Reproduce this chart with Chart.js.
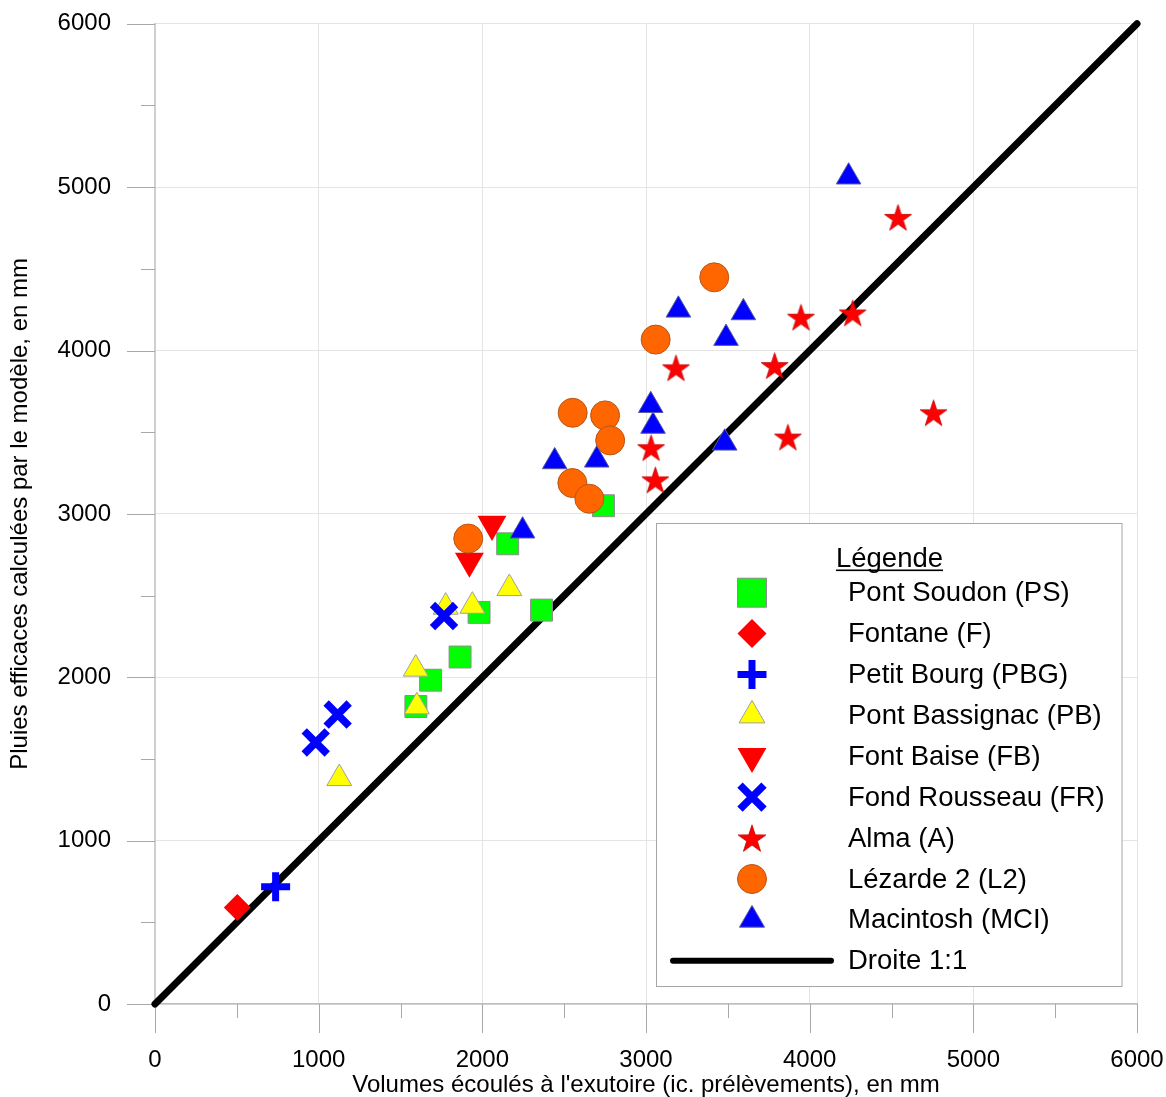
<!DOCTYPE html>
<html>
<head>
<meta charset="utf-8">
<script src="https://cdn.jsdelivr.net/npm/chart.js@4.4.1/dist/chart.umd.min.js"></script>
<style>
  html, body { margin: 0; padding: 0; background: #fff; }
  .chartBox { width: 1166px; height: 1097px; }
</style>
</head>
<body>
<div class="chartBox"><canvas id="myChart"></canvas></div>
<script>
// series names (legend order)
const seriesNames = ['Pont Soudon (PS)', 'Fontane (F)', 'Petit Bourg (PBG)', 'Pont Bassignac (PB)',
  'Font Baise (FB)', 'Fond Rousseau (FR)', 'Alma (A)', 'Lézarde 2 (L2)', 'Macintosh (MCI)'];
const lineName = 'Droite 1:1';

// x = volumes écoulés, y = pluies efficaces (mm)
const psX = [2740, 2155, 2362, 1980, 1864, 1684, 1594];
const psY = [3050, 2817, 2411, 2397, 2124, 1982, 1821];
const fX = [503];
const fY = [591];
const pbgX = [737];
const pbgY = [717];
const pbX = [1600, 1593, 1776, 1939, 2165, 1126];
const pbY = [1820, 2051, 2430, 2436, 2544, 1381];
const fbX = [1921, 2059];
const fbY = [2711, 2937];
const frX = [1766, 1116, 982];
const frY = [2375, 1772, 1601];
const aX = [4540, 4263, 3947, 3786, 3183, 4757, 3867, 3031, 3057];
const aY = [4815, 4230, 4204, 3908, 3894, 3619, 3470, 3405, 3208];
const l2X = [3417, 3059, 2552, 2750, 2781, 2550, 2654, 1914];
const l2Y = [4448, 4067, 3619, 3603, 3450, 3189, 3093, 2849];
const mciX = [4238, 3198, 3595, 3489, 3029, 3043, 3481, 2699, 2442, 2246];
const mciY = [5063, 4248, 4232, 4075, 3664, 3537, 3434, 3330, 3320, 2896];
const lineX = [0, 6000];
const lineY = [0, 6000];

const axisMin = 0, axisMax = 6000, majorStep = 1000, minorStep = 500;

function pts(xs, ys) { return xs.map((x, i) => ({ x: x, y: ys[i] })); }

function makeStar(R, color) {
  const s = Math.ceil(R * 2 + 4);
  const c = document.createElement('canvas');
  c.width = s; c.height = s;
  const g = c.getContext('2d');
  g.translate(s / 2, s / 2 + 0.095 * R);
  g.beginPath();
  for (let k = 0; k < 10; k++) {
    const r = k % 2 === 0 ? R : R * 0.382;
    const a = -Math.PI / 2 + k * Math.PI / 5;
    g.lineTo(Math.cos(a) * r, Math.sin(a) * r);
  }
  g.closePath();
  g.fillStyle = color;
  g.fill();
  g.lineWidth = 0.8;
  g.strokeStyle = '#c00000';
  g.stroke();
  return c;
}

const starPlot = makeStar(14.2, '#ff0000');
const starLegend = makeStar(14.6, '#ff0000');

const datasets = [
  { label: seriesNames[0], data: pts(psX, psY), pointStyle: 'rect', pointRadius: 15.5, legendRadius: 20.5,
    backgroundColor: '#00ff00', borderColor: '#8c8c8c', borderWidth: 1 },
  { label: seriesNames[1], data: pts(fX, fY), pointStyle: 'rectRot', pointRadius: 13.5, legendRadius: 14.5,
    backgroundColor: '#ff0000', borderColor: '#ff0000', borderWidth: 0 },
  { label: seriesNames[2], data: pts(pbgX, pbgY), pointStyle: 'cross', pointRadius: 14.5, legendRadius: 14.5,
    backgroundColor: '#0000ff', borderColor: '#0000ff', borderWidth: 7 },
  { label: seriesNames[3], data: pts(pbX, pbY), pointStyle: 'triangle', pointRadius: 14.4, legendRadius: 15,
    backgroundColor: '#ffff00', borderColor: '#a0a0a0', borderWidth: 1 },
  { label: seriesNames[4], data: pts(fbX, fbY), pointStyle: 'triangle', rotation: 180, pointRadius: 16.7, legendRadius: 16.7,
    backgroundColor: '#ff0000', borderColor: '#ff0000', borderWidth: 0 },
  { label: seriesNames[5], data: pts(frX, frY), pointStyle: 'crossRot', pointRadius: 16.3, legendRadius: 17,
    backgroundColor: '#0000ff', borderColor: '#0000ff', borderWidth: 7.5 },
  { label: seriesNames[6], data: pts(aX, aY), pointStyle: starPlot, legendImage: starLegend, pointRadius: 14,
    backgroundColor: '#ff0000', borderColor: '#ff0000', borderWidth: 0 },
  { label: seriesNames[7], data: pts(l2X, l2Y), pointStyle: 'circle', pointRadius: 14.5, legendRadius: 14.5,
    backgroundColor: '#ff6600', borderColor: '#b4561a', borderWidth: 1 },
  { label: seriesNames[8], data: pts(mciX, mciY), pointStyle: 'triangle', pointRadius: 14.2, legendRadius: 14.5,
    backgroundColor: '#0000ff', borderColor: '#5a5aa0', borderWidth: 1 },
];
datasets.forEach((d, i) => { d.order = 20 - i; d.clip = false; d.pointHoverRadius = d.pointRadius; });
datasets.push({
  label: lineName, data: pts(lineX, lineY), showLine: true, pointRadius: 0, pointHoverRadius: 0,
  borderColor: '#000000', borderWidth: 7, borderCapStyle: 'round', order: 100, clip: false
});

// minor + major tick marks drawn outside the plot area
const tickMarks = {
  id: 'tickMarks',
  beforeDatasetsDraw(chart) {
    const { ctx, chartArea: a, scales } = chart;
    ctx.save();
    ctx.strokeStyle = '#a8a8a8';
    ctx.lineWidth = 1;
    for (let v = axisMin; v <= axisMax; v += minorStep) {
      const major = v % majorStep === 0;
      const py = Math.round(scales.y.getPixelForValue(v)) + 0.5;
      ctx.beginPath();
      ctx.moveTo(a.left - (major ? 28 : 14), py);
      ctx.lineTo(a.left, py);
      ctx.stroke();
      const px = Math.round(scales.x.getPixelForValue(v)) + 0.5;
      ctx.beginPath();
      ctx.moveTo(px, a.bottom);
      ctx.lineTo(px, a.bottom + (major ? 29 : 14));
      ctx.stroke();
    }
    ctx.restore();
  }
};

// boxed legend inside the plot
const boxLegend = {
  id: 'boxLegend',
  afterDraw(chart) {
    const ctx = chart.ctx;
    const bx = 656.5, by = 523.5, bw = 465.5, bh = 463;
    const markX = 752, textX = 848, row0 = 592.7, rowStep = 40.9;
    ctx.save();
    ctx.fillStyle = '#ffffff';
    ctx.fillRect(bx, by, bw, bh);
    ctx.strokeStyle = '#a6a6a6';
    ctx.lineWidth = 1;
    ctx.strokeRect(bx, by, bw, bh);

    ctx.fillStyle = '#000000';
    ctx.font = '27.5px "Liberation Sans", Arial, sans-serif';
    ctx.textAlign = 'center';
    ctx.textBaseline = 'alphabetic';
    const title = 'Légende';
    ctx.fillText(title, 889.5, 567);
    const tw = ctx.measureText(title).width;
    ctx.fillRect(889.5 - tw / 2, 569.5, tw, 1.6);

    ctx.textAlign = 'left';
    ctx.textBaseline = 'middle';
    chart.data.datasets.forEach((d, i) => {
      const y = row0 + i * rowStep;
      if (d.showLine) {
        ctx.save();
        ctx.strokeStyle = d.borderColor;
        ctx.lineWidth = 6;
        ctx.lineCap = 'round';
        ctx.beginPath();
        ctx.moveTo(673, y);
        ctx.lineTo(831, y);
        ctx.stroke();
        ctx.restore();
      } else if (d.legendImage) {
        const im = d.legendImage;
        ctx.drawImage(im, markX - im.width / 2, y - im.height / 2);
      } else {
        ctx.save();
        ctx.fillStyle = d.backgroundColor;
        ctx.strokeStyle = d.borderColor;
        ctx.lineWidth = d.borderWidth;
        Chart.helpers.drawPoint(ctx, {
          pointStyle: d.pointStyle, radius: d.legendRadius,
          rotation: d.rotation || 0, borderWidth: d.borderWidth
        }, markX, y);
        ctx.restore();
      }
      ctx.fillStyle = '#000000';
      ctx.fillText(d.label, textX, y + 1);
    });
    ctx.restore();
  }
};

const gridColor = '#e4e4e4';
const labelFont = { family: '"Liberation Sans", Arial, sans-serif', size: 24 };

const config = {
  type: 'scatter',
  data: { datasets },
  options: {
    responsive: true,
    maintainAspectRatio: false,
    animation: false,
    events: [],
    layout: { padding: { top: 22, right: 29, left: 0, bottom: 0 } },
    plugins: { legend: { display: false }, tooltip: { enabled: false } },
    elements: { line: { tension: 0 } },
    scales: {
      x: {
        type: 'linear', min: axisMin, max: axisMax,
        afterFit: s => { s.height = 93; },
        ticks: { stepSize: majorStep, padding: 2, color: '#000', font: labelFont, callback: v => String(v) },
        grid: { color: gridColor, drawTicks: true, tickLength: 40, tickColor: 'rgba(0,0,0,0)' },
        border: { color: '#bdbdbd', width: 1.5 },
        title: {
          display: true, text: "Volumes écoulés à l'exutoire (ic. prélèvements), en mm", color: '#000',
          font: { family: '"Liberation Sans", Arial, sans-serif', size: 24, lineHeight: 1 },
          padding: { top: 0, bottom: 0 }
        }
      },
      y: {
        type: 'linear', min: axisMin, max: axisMax,
        afterFit: s => { s.width = 155; },
        ticks: { stepSize: majorStep, padding: 4, color: '#000', font: labelFont, callback: v => String(v) },
        grid: { color: gridColor, drawTicks: true, tickLength: 40, tickColor: 'rgba(0,0,0,0)' },
        border: { color: '#cfcfcf', width: 2 },
        title: {
          display: true, text: 'Pluies efficaces calculées par le modèle, en mm', color: '#000',
          font: { family: '"Liberation Sans", Arial, sans-serif', size: 24, lineHeight: 1.2 },
          padding: { top: 6, bottom: 0 }
        }
      }
    }
  },
  plugins: [tickMarks, boxLegend]
};

const myChart = new Chart(document.getElementById('myChart'), config);
</script>
</body>
</html>
